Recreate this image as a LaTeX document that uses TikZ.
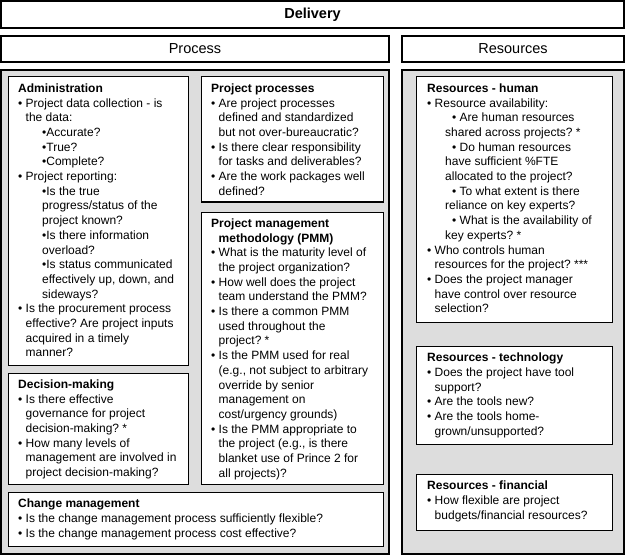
\documentclass[tikz,border=0pt]{standalone}
\usepackage{fontspec}
\setmainfont{Liberation Sans}
\usetikzlibrary{positioning}
\definecolor{panelgray}{RGB}{221,221,221}
\frenchspacing
\newcommand\itm{\textbullet\ }
\newcommand\cont{\phantom{\textbullet\ }}
\newcommand\sub{\hspace*{24pt}}

\begin{document}
\begin{tikzpicture}[x=1pt,y=-1pt,
  frame/.style={draw,line width=1.3pt,inner sep=0pt,outer sep=0pt,anchor=north west,font=\fontsize{14.5}{17}\selectfont},
  panel/.style={frame,fill=panelgray},
  box/.style={draw,fill=white,line width=1pt,inner sep=0pt,outer sep=0pt,anchor=north west},
  txt/.style={anchor=north west,inner sep=0pt,align=left,font=\fontsize{12}{14.7}\selectfont,execute at begin node=\strut}]
\useasboundingbox (0,0) rectangle (626,556);
% top bars
\node[frame,minimum width=623pt,minimum height=27pt] (deliv) at (1,1) {\bfseries Delivery};
\node[frame,minimum width=388pt,minimum height=26pt] (proc) at (1,36) {Process};
\node[frame,minimum width=222pt,minimum height=26pt] (res) at (402,36) {Resources};
% grey panels
\node[panel,minimum width=388pt,minimum height=484pt] (procpanel) at (1,70) {};
\node[panel,minimum width=222pt,minimum height=484pt] (respanel) at (402,70) {};
% process boxes
\node[box,minimum width=180pt,minimum height=288pt] (admin) at (8,77) {};
\node[txt] (adminT) at ([xshift=10pt,yshift=-6.5pt]admin.north west) {\textbf{Administration}\\
\itm Project data collection - is\\
\cont the data:\\
\sub\textbullet Accurate?\\
\sub\textbullet True?\\
\sub\textbullet Complete?\\
\itm Project reporting:\\
\sub\textbullet Is the true\\
\sub progress/status of the\\
\sub project known?\\
\sub\textbullet Is there information\\
\sub overload?\\
\sub\textbullet Is status communicated\\
\sub effectively up, down, and\\
\sub sideways?\\
\itm Is the procurement process\\
\cont effective? Are project inputs\\
\cont acquired in a timely\\
\cont manner?};
\node[box,minimum width=182pt,minimum height=125pt] (pproc) at (201,77) {};
\node[txt] (pprocT) at ([xshift=10pt,yshift=-6.5pt]pproc.north west) {\textbf{Project processes}\\
\itm Are project processes\\
\cont defined and standardized\\
\cont but not over-bureaucratic?\\
\itm Is there clear responsibility\\
\cont for tasks and deliverables?\\
\itm Are the work packages well\\
\cont defined?};
\node[box,minimum width=182pt,minimum height=272pt] (pmm) at (201,212) {};
\node[txt] (pmmT) at ([xshift=10pt,yshift=-6.5pt]pmm.north west) {\textbf{Project management}\\
\cont\textbf{methodology (PMM)}\\
\itm What is the maturity level of\\
\cont the project organization?\\
\itm How well does the project\\
\cont team understand the PMM?\\
\itm Is there a common PMM\\
\cont used throughout the\\
\cont project? *\\
\itm Is the PMM used for real\\
\cont (e.g., not subject to arbitrary\\
\cont override by senior\\
\cont management on\\
\cont cost/urgency grounds)\\
\itm Is the PMM appropriate to\\
\cont the project (e.g., is there\\
\cont blanket use of Prince 2 for\\
\cont all projects)?};
\node[box,minimum width=180pt,minimum height=111pt] (decis) at (8,373) {};
\node[txt] (decisT) at ([xshift=10pt,yshift=-6.5pt]decis.north west) {\textbf{Decision-making}\\
\itm Is there effective\\
\cont governance for project\\
\cont decision-making? *\\
\itm How many levels of\\
\cont management are involved in\\
\cont project decision-making?};
\node[box,minimum width=375pt,minimum height=54pt] (change) at (8,492) {};
\node[txt] (changeT) at ([xshift=10pt,yshift=-7pt]change.north west) {\textbf{Change management}\\
\itm Is the change management process sufficiently flexible?\\
\itm Is the change management process cost effective?};
% resource boxes
\node[box,minimum width=196pt,minimum height=245pt] (human) at (416,77) {};
\node[txt] (humanT) at ([xshift=11pt,yshift=-6.5pt]human.north west) {\textbf{Resources - human}\\
\itm Resource availability:\\
\hspace*{25pt}\textbullet\ Are human resources\\
\hspace*{18pt}shared across projects? *\\
\hspace*{25pt}\textbullet\ Do human resources\\
\hspace*{18pt}have sufficient \%FTE\\
\hspace*{18pt}allocated to the project?\\
\hspace*{25pt}\textbullet\ To what extent is there\\
\hspace*{18pt}reliance on key experts?\\
\hspace*{25pt}\textbullet\ What is the availability of\\
\hspace*{18pt}key experts? *\\
\itm Who controls human\\
\cont resources for the project? ***\\
\itm Does the project manager\\
\cont have control over resource\\
\cont selection?};
\node[box,minimum width=196pt,minimum height=98pt] (tech) at (416,346) {};
\node[txt] (techT) at ([xshift=11pt,yshift=-7pt]tech.north west) {\textbf{Resources - technology}\\
\itm Does the project have tool\\
\cont support?\\
\itm Are the tools new?\\
\itm Are the tools home-\\
\cont grown/unsupported?};
\node[box,minimum width=196pt,minimum height=56pt] (fin) at (416,474) {};
\node[txt] (finT) at ([xshift=11pt,yshift=-7pt]fin.north west) {\textbf{Resources - financial}\\
\itm How flexible are project\\
\cont budgets/financial resources?};
\end{tikzpicture}
\end{document}
